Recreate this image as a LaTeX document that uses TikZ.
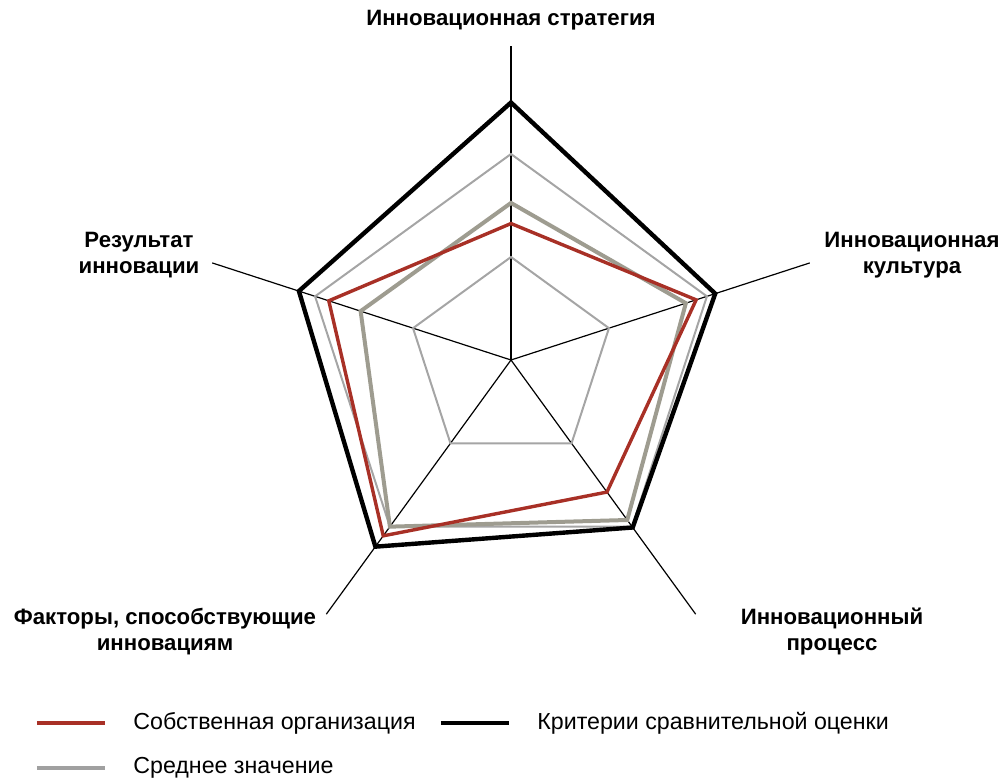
\documentclass[tikz,border=0pt]{standalone}
\usepackage{fontspec}
\setmainfont{Liberation Sans}
\usetikzlibrary{calc,positioning}
\definecolor{ownred}{RGB}{168,48,38}
\definecolor{avggray}{RGB}{158,156,144}
\definecolor{gridgray}{RGB}{165,165,165}
\definecolor{leggray}{RGB}{160,160,160}
\begin{document}
\begin{tikzpicture}[x=0.5pt,y=0.5pt,line join=miter,
	axis/.style={black,line width=0.6pt},
	grid/.style={gridgray,line width=1pt},
	own/.style={ownred,line width=1.7pt},
	avg/.style={avggray,line width=2pt},
	crit/.style={black,line width=2.2pt},
	lbl/.style={font=\bfseries\fontsize{11.1}{13}\selectfont,align=center},
	leg/.style={font=\fontsize{11.6}{13}\selectfont,anchor=west,inner sep=0pt}]
		\useasboundingbox (-511,-422) rectangle (490,360);
		\def\u{51.5}
		\coordinate (O) at (0,0);
		% axes
		\foreach \n/\a in {S/90,K/18,P/-54,F/-126,R/162}{
			\coordinate (\n) at (\a:6.1*\u);
			\draw[axis] (O)--(\n);}
		% grid
		\foreach \r in {2,4}
			\draw[grid] (90:\r*\u) \foreach \a in {18,-54,-126,162}{--(\a:\r*\u)} --cycle;
		% values
		\draw[avg] (90:3.05*\u)--(18:3.57*\u)--(-54:3.84*\u)--(-126:4.0*\u)--(162:3.07*\u)--cycle;
		\draw[own] (90:2.65*\u)--(18:3.78*\u)--(-54:3.17*\u)--(-126:4.22*\u)--(162:3.72*\u)--cycle;
		\draw[crit] (90:5.0*\u)--(18:4.17*\u)--(-54:4.02*\u)--(-126:4.48*\u)--(162:4.33*\u)--cycle;
		% labels
		\node[lbl] (st) at (0,340) {Инновационная стратегия};
		\node[lbl] (ku) at (401,105) {Инновационная\\культура};
		\node[lbl] (pr) at (321,-272) {Инновационный\\процесс};
		\node[lbl] (fa) at (-346,-272) {Факторы, способствующие\\инновациям};
		\node[lbl] (re) at (-372,105) {Результат\\инновации};
		% legend
		\node[leg] (l1) at (-378,-363) {Собственная организация};
		\node[leg] (l2) at (26,-363) {Критерии сравнительной оценки};
		\node[leg] (l3) at (-378,-408) {Среднее значение};
		\foreach \l/\s in {l1/ownred,l2/black,l3/leggray}{
			\coordinate (\l a) at ($(\l.west)+(-96,0)$);
			\coordinate (\l b) at ($(\l.west)+(-28,0)$);
			\draw[\s,line width=2.2pt] (\l a)--(\l b);}
\end{tikzpicture}
\end{document}
